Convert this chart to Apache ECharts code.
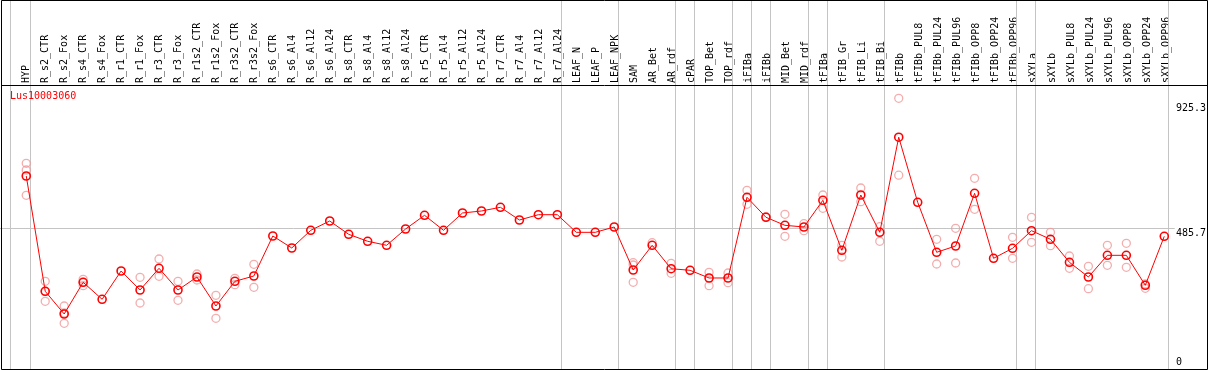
<!DOCTYPE html>
<html><head><meta charset="utf-8">
<script src="https://cdn.jsdelivr.net/npm/echarts@6/dist/echarts.min.js"></script>
<style>html,body{margin:0;padding:0;background:#fff}#c{width:1209px;height:370px}</style>
</head><body><div id="c"></div>
<script>
const geneName = 'Lus10003060';
const categories = ['HYP','R_s2_CTR','R_s2_Fox','R_s4_CTR','R_s4_Fox','R_r1_CTR','R_r1_Fox','R_r3_CTR','R_r3_Fox','R_r1s2_CTR','R_r1s2_Fox','R_r3s2_CTR','R_r3s2_Fox','R_s6_CTR','R_s6_Al4','R_s6_Al12','R_s6_Al24','R_s8_CTR','R_s8_Al4','R_s8_Al12','R_s8_Al24','R_r5_CTR','R_r5_Al4','R_r5_Al12','R_r5_Al24','R_r7_CTR','R_r7_Al4','R_r7_Al12','R_r7_Al24','LEAF_N','LEAF_P','LEAF_NPK','SAM','AR_Bet','AR_rdf','cPAR','TOP_Bet','TOP_rdf','iFIBa','iFIBb','MID_Bet','MID_rdf','tFIBa','tFIB_Gr','tFIB_Li','tFIB_Bi','tFIBb','tFIBb_PUL8','tFIBb_PUL24','tFIBb_PUL96','tFIBb_OPP8','tFIBb_OPP24','tFIBb_OPP96','sXYLa','sXYLb','sXYLb_PUL8','sXYLb_PUL24','sXYLb_PUL96','sXYLb_OPP8','sXYLb_OPP24','sXYLb_OPP96'];
const means = [670.2,265.6,186.0,297.2,237.6,336.9,270.2,346.3,270.2,315.8,214.0,300.7,319.3,459.7,417.6,479.7,512.3,465.6,441.1,427.0,484.2,532.3,479.7,540.4,547.4,560.4,515.8,534.4,534.4,472.6,472.6,491.2,340.4,427.0,344.9,339.3,312.3,312.3,595.5,525.3,497.2,491.2,584.9,409.5,603.5,472.6,806.3,577.9,402.5,424.6,609.5,381.4,416.5,478.3,448.1,367.4,315.8,391.9,391.9,286.7,458.6];
const replicates = [
  [714.8,691.3,602.5],[300.7,265.6,230.5],[214.0,189.5,153.3],[307.7,297.2,285.3],[],[],
  [314.7,224.6],[379.0,318.3],[300.7,234.0],[326.3,305.3],[251.6,170.9],[311.2,288.8],[360.4,279.7],
  [],[],[],[],[],[],[],[],[],[],[],[],[],[],[],[],[],[],[],
  [366.0,357.9,297.2],[436.2],[363.9,328.8],[],[332.3,285.3],[329.8,295.8],[620.0,570.9],[527.4],
  [535.8,458.6],[502.8,478.3],[603.5,556.9],[427.0,386.0],[628.1,580.0],[492.3,441.1],[942.8,673.0],
  [],[448.1,361.4],[486.7,364.9],[662.1,553.4],[],[455.1,381.4],[525.3,437.6],[472.6,425.6],
  [389.5,346.3],[353.3,274.7],[427.0,356.9],[434.0,349.8],[291.2,276.2],[]
];
const groupEnds = [0,28,31,34,35,37,38,39,41,42,45,52,53,60];
const yLabelsTop = [485.7, 925.3];
const yLabelsBottom = [0];
const refLine = 485.7;

// layout constants (pixel mapping)
const W = 1209, H = 370;
const x0 = 26.3, step = 19;
const xMin = (0 - x0) / step, xMax = (W - x0) / step;
const yPxZero = 367, yPxTop = 103.3, yTopVal = 925.3;
const perPx = yTopVal / (yPxZero - yPxTop);
const yMin = (yPxZero - H) * perPx, yMax = yPxZero * perPx;
const leadRule = -0.8316;
const font = 'DejaVu Sans Mono';
const ruleColor = '#c4c4c4';

const repData = [];
replicates.forEach((arr, i) => arr.forEach(v => repData.push([i, v])));
const meanData = means.map((v, i) => [i, v]);

const markData = groupEnds.map(g => ({ xAxis: g + 0.22 }));
markData.push([{ coord: [xMin, refLine] }, { coord: [60.55, refLine] }]);

const chart = echarts.init(document.getElementById('c'), null, { renderer: 'canvas' });
chart.setOption({
  animation: false,
  backgroundColor: '#fff',
  title: { text: geneName, left: 10, top: 91, padding: 0,
    textStyle: { color: '#ff0000', fontSize: 10, fontWeight: 'normal', fontFamily: font } },
  grid: [
    { left: 0, right: 0, top: 0, bottom: 0, containLabel: false },
    { left: 16.8, right: W - 16.8 - 61 * step, top: 0, bottom: H - 85, containLabel: false }
  ],
  xAxis: [
    { type: 'value', gridIndex: 0, min: xMin, max: xMax, show: false },
    { type: 'category', gridIndex: 1, data: categories, position: 'bottom', boundaryGap: true,
      axisLine: { show: false }, axisTick: { show: false }, splitLine: { show: false },
      axisLabel: { inside: true, rotate: 90, margin: 2, interval: 0, fontSize: 10, fontFamily: font, color: '#000' } }
  ],
  yAxis: [
    { type: 'value', gridIndex: 0, min: yMin, max: yMax, position: 'right', offset: -33,
      axisLine: { show: false }, axisTick: { show: false }, splitLine: { show: false },
      axisLabel: { customValues: yLabelsTop, verticalAlign: 'top', margin: 2, fontSize: 10, fontFamily: font, color: '#000' } },
    { type: 'value', gridIndex: 0, min: yMin, max: yMax, position: 'right', offset: -33,
      axisLine: { show: false }, axisTick: { show: false }, splitLine: { show: false },
      axisLabel: { customValues: yLabelsBottom, verticalAlign: 'bottom', margin: 2, fontSize: 10, fontFamily: font, color: '#000' } },
    { type: 'value', gridIndex: 1, show: false }
  ],
  graphic: [
    { type: 'rect', z: 100, silent: true, shape: { x: 1.5, y: 0.5, width: 1206, height: 369 },
      style: { fill: 'none', stroke: '#000', lineWidth: 1 } },
    { type: 'line', z: 100, silent: true, shape: { x1: 1.5, y1: 85.5, x2: 1207.5, y2: 85.5 },
      style: { stroke: '#000', lineWidth: 1 } }
  ],
  series: [
    { type: 'line', xAxisIndex: 0, yAxisIndex: 0, data: [[leadRule, yMin], [leadRule, yMax]],
      symbol: 'none', silent: true, z: 1, clip: false,
      lineStyle: { color: ruleColor, width: 1 } },
    { type: 'scatter', xAxisIndex: 0, yAxisIndex: 0, data: repData, symbol: 'circle', symbolSize: 8,
      silent: true, z: 2,
      itemStyle: { color: 'rgba(255,255,255,0)', borderColor: '#f09898', borderWidth: 1.3 } },
    { type: 'line', xAxisIndex: 0, yAxisIndex: 0, data: meanData, symbol: 'circle', symbolSize: 8,
      showAllSymbol: true, silent: true, z: 3,
      lineStyle: { color: '#ff0000', width: 1 },
      itemStyle: { color: 'rgba(255,255,255,0)', borderColor: '#ff0000', borderWidth: 1.6 },
      markLine: { silent: true, symbol: ['none', 'none'], label: { show: false }, z: 1,
        lineStyle: { color: ruleColor, width: 1, type: 'solid' }, data: markData } }
  ]
});
</script></body></html>
